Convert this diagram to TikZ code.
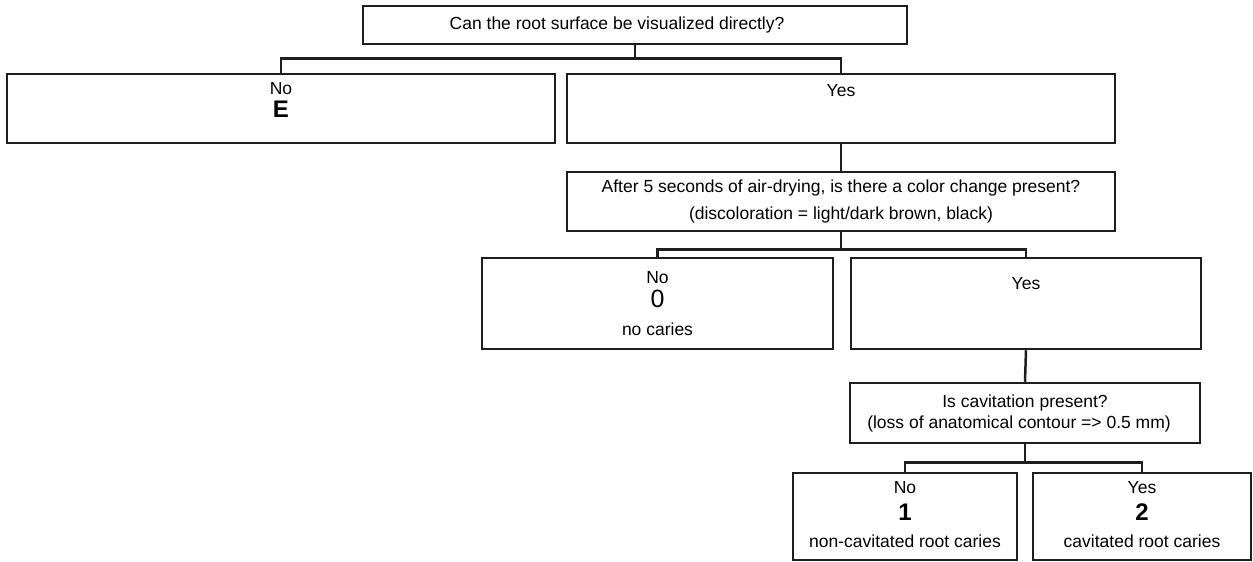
\documentclass[tikz,border=0pt]{standalone}
\usepackage{fontspec}
\setmainfont{Liberation Sans}
\usetikzlibrary{positioning}
\definecolor{scan-ink}{HTML}{1E1E1E}
\newcommand{\score}[1]{{\fontsize{24}{24}\selectfont\bfseries #1}}

\begin{document}
\begin{tikzpicture}[x=1pt, y=-1pt, font=\fontsize{17.5}{21}\selectfont,
  box/.style={draw=scan-ink, line width=2.5pt, inner sep=0pt, align=center},
  link/.style={draw=scan-ink, line width=2.5pt}]
\useasboundingbox (0,0) rectangle (1253,562);

\node[box, minimum width=544, minimum height=38] (root) at (635,25) {Can the root surface be visualized directly?\hspace*{36pt}};

\node[box, minimum width=548, minimum height=69] (noE) at (281,108.5) {No\\[2pt]\score{E}\\[-3pt]\mbox{}};
\node[box, minimum width=548, minimum height=69] (yesA) at (841,108.5) {Yes\\[16pt]\mbox{}};

\node[box, minimum width=548, minimum height=59] (drying) at (841,201.5) {After 5 seconds of air-drying, is there a color change present?\\[6pt]
(discoloration = light/dark brown, black)};

\node[box, minimum width=351, minimum height=91] (no0) at (657.5,303.5) {\mbox{}\\[-9pt]No\\[3pt]{\fontsize{25}{25}\selectfont 0}\\[7pt]no caries};
\node[box, minimum width=350, minimum height=91] (yesB) at (1026,303.5) {Yes\\[20pt]\mbox{}};

\node[box, minimum width=350, minimum height=60] (cavity) at (1025,413) {Is cavitation present?\\
(loss of anatomical contour => 0.5 mm)\hspace*{12pt}};

\node[box, minimum width=224, minimum height=87] (no1) at (905,516.5) {\mbox{}\\[-13pt]No\\[6pt]\score{1}\\[6pt]non-cavitated root caries};
\node[box, minimum width=218, minimum height=87] (yes2) at (1142,516.5) {\mbox{}\\[-13pt]Yes\\[6pt]\score{2}\\[6pt]cavitated root caries};

% branches
\draw[link] (root.south) -- ++(0,13) -| (noE.north);
\draw[link] (root.south) -- ++(0,13) -| (yesA.north);
\draw[link] (yesA.south) -- (drying.north);
\draw[link] (drying.south) -- ++(0,17) -| (no0.north);
\draw[link] (drying.south) -- ++(0,17) -| (yesB.north);
\draw[link] (yesB.south) -- (cavity.north);
\draw[link] (cavity.south) -- ++(0,18) -| (no1.north);
\draw[link] (cavity.south) -- ++(0,18) -| (yes2.north);
\end{tikzpicture}
\end{document}
